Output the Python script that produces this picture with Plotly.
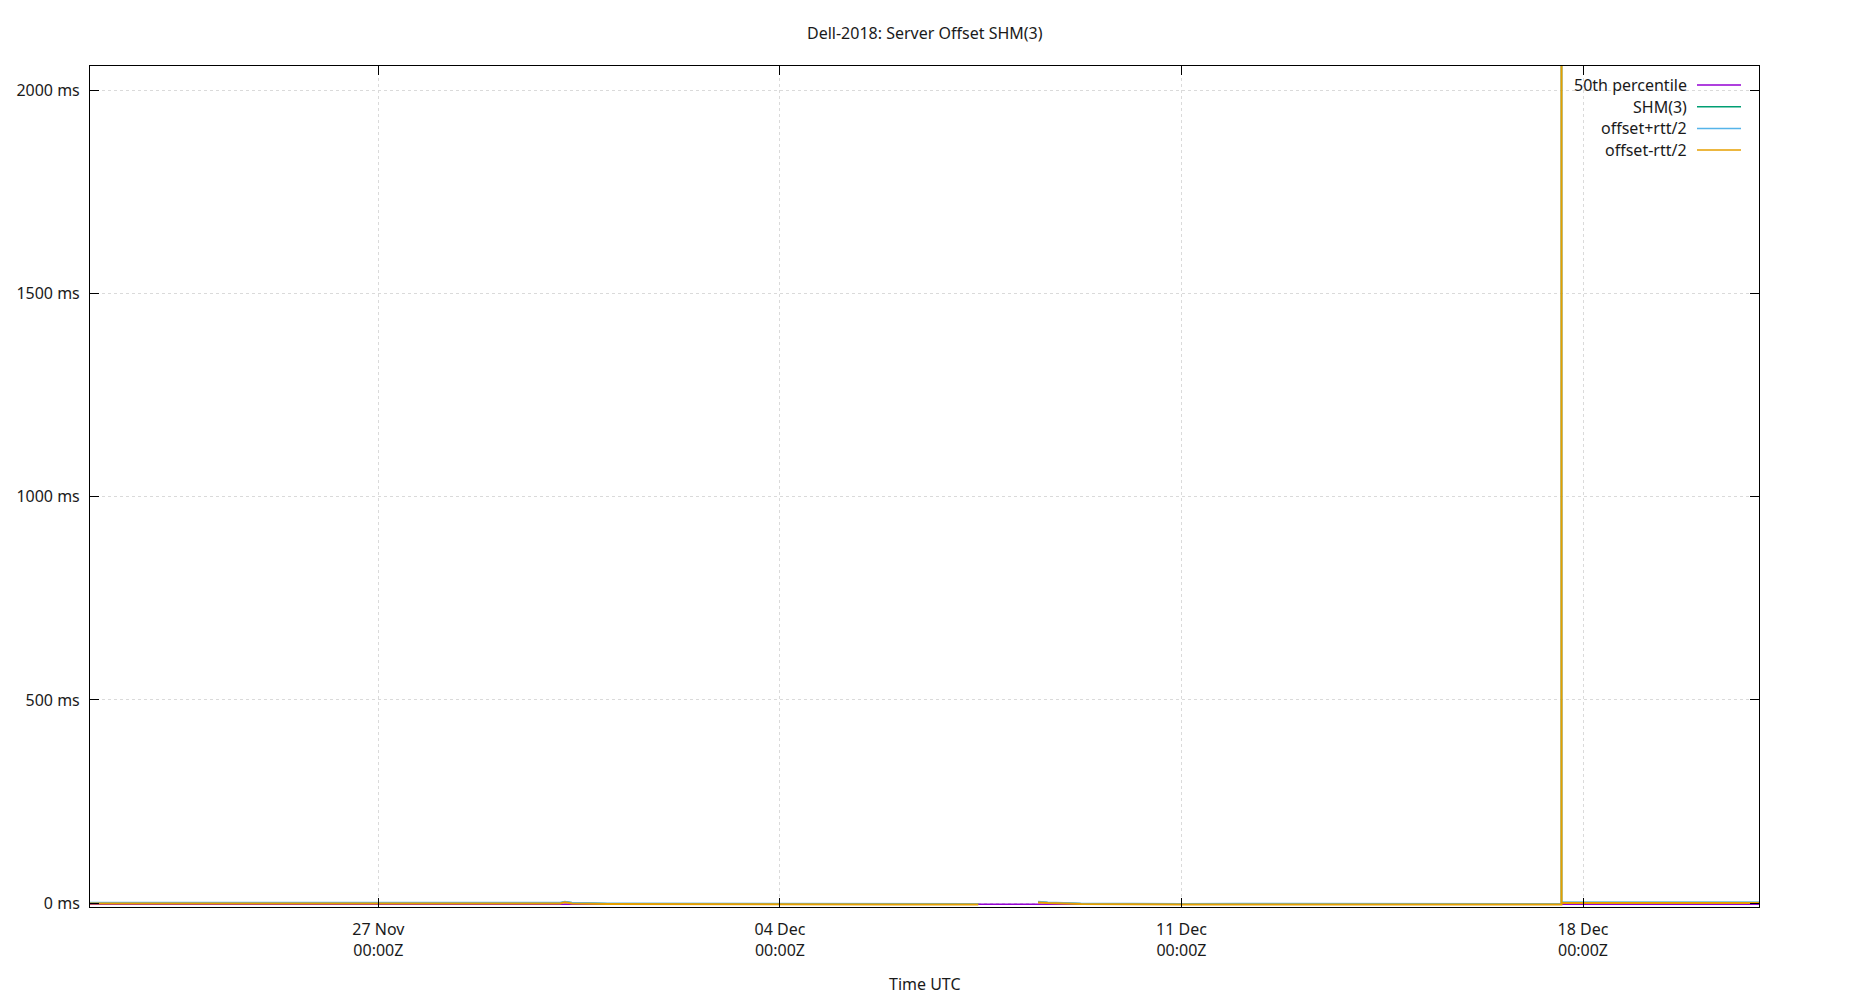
"""Dell-2018 server offset plot for SHM(3), redrawn with Plotly."""

import plotly.graph_objects as go

# sample times (UTC)
times = [
    "2018-11-21 23:20", "2018-11-23 00:00", "2018-11-24 00:00", "2018-11-25 00:00",
    "2018-11-26 00:00", "2018-11-27 00:00", "2018-11-28 00:00", "2018-11-29 00:00",
    "2018-11-30 04:00", "2018-11-30 06:00", "2018-11-30 09:00", "2018-12-01 00:00",
    "2018-12-02 00:00", "2018-12-03 00:00", "2018-12-04 00:00", "2018-12-05 00:00",
    "2018-12-06 00:00", "2018-12-07 00:00", "2018-12-07 11:00", "2018-12-07 12:00",
    "2018-12-08 12:00", "2018-12-08 16:00", "2018-12-09 06:00", "2018-12-10 00:00",
    "2018-12-11 00:00", "2018-12-12 00:00", "2018-12-13 00:00", "2018-12-14 00:00",
    "2018-12-15 00:00", "2018-12-16 00:00", "2018-12-17 00:00", "2018-12-17 14:59",
    "2018-12-17 15:00", "2018-12-17 15:01", "2018-12-18 00:00", "2018-12-19 00:00",
    "2018-12-20 00:00", "2018-12-21 01:40",
]

# offset of SHM(3), ms  (None = no samples)
shm3 = [
    0.5, 0.6, 0.5, 0.4, 0.5, 0.4, 0.5, 0.3,
    0.4, 3.0, 0.5, -1.5, -1.4, -1.6, -1.5, -2.5,
    -2.4, -2.6, -2.5, None, 2.5, 1.0, -1.5, -2.3,
    -2.5, -2.4, -2.6, -2.5, -2.4, -2.5, -2.6, -2.5,
    2550.0, 1.0, 1.1, 0.9, 1.0, 1.0,
]
offset_plus = [
    1.5, 1.6, 1.5, 1.4, 1.5, 1.4, 1.5, 1.3,
    1.4, 4.0, 1.5, -0.5, -0.4, -0.6, -0.5, -1.5,
    -1.4, -1.6, -1.5, None, 3.5, 2.0, -0.5, -1.3,
    -1.5, -1.4, -1.6, -1.5, -1.4, -1.5, -1.6, -1.5,
    2600.0, 2.0, 2.1, 1.9, 2.0, 2.0,
]
offset_minus = [
    -1.0, -0.9, -1.0, -1.1, -1.0, -1.1, -1.0, -1.2,
    -1.1, 2.0, -1.0, -2.5, -2.4, -2.6, -2.5, -3.8,
    -3.7, -3.9, -3.8, None, 1.5, 0.0, -2.5, -3.3,
    -3.5, -3.4, -3.6, -3.5, -3.4, -3.5, -3.6, -3.5,
    2500.0, 0.0, 0.1, -0.1, 0.0, 0.0,
]

# 50th percentile is a flat reference line across the whole span
p50_times = ["2018-11-21 23:20", "2018-12-21 01:40"]
p50_values = [-2.8, -2.8]

x_tickvals = ["2018-11-27", "2018-12-04", "2018-12-11", "2018-12-18"]
x_ticktext = ["27 Nov<br>00:00Z", "04 Dec<br>00:00Z", "11 Dec<br>00:00Z", "18 Dec<br>00:00Z"]
y_tickvals = [0, 500, 1000, 1500, 2000]
y_ticktext = ["0 ms", "500 ms", "1000 ms", "1500 ms", "2000 ms"]

series = [
    ("50th percentile", p50_times, p50_values, "#9400d3", 1.5),
    ("SHM(3)", times, shm3, "#009e73", 1.5),
    ("offset+rtt/2", times, offset_plus, "#56b4e9", 1.5),
    ("offset-rtt/2", times, offset_minus, "#e69f00", 2.0),
]

FONT = "Noto Sans, Open Sans, sans-serif"
PAGE = 8  # default body margin of the html page
W, H = 1850 - 2 * PAGE, 1000 - PAGE
L, T = 90 - PAGE, 66 - PAGE
plot_w, plot_h = 1669, 841
R, B = W - L - plot_w, H - T - plot_h

fig = go.Figure()
for name, xs, ys, colour, width in series:
    fig.add_scatter(x=xs, y=ys, name=name, mode="lines",
                    line=dict(color=colour, width=width), connectgaps=False)

axis_common = dict(
    showline=True, linecolor="black", linewidth=1, mirror="allticks",
    ticks="inside", ticklen=9, tickcolor="black", tickwidth=1,
    showgrid=True, gridcolor="#dadada", griddash="dot", gridwidth=1,
    zeroline=False, automargin=False,
    tickfont=dict(family=FONT, size=16, color="#1a1a1a"),
)
fig.update_xaxes(range=["2018-11-21 23:20", "2018-12-21 01:38"],
                 tickvals=x_tickvals, ticktext=x_ticktext,
                 ticklabelstandoff=8, **axis_common)
fig.update_yaxes(range=[-9.8, 2060.5], tickvals=y_tickvals,
                 ticktext=y_ticktext, ticklabelstandoff=6, **axis_common)


# helpers: positions measured on the 1850x1000 page -> paper coords
def px(x):
    return (x - PAGE - L) / plot_w


def py(y):
    return (T + plot_h - (y - PAGE)) / plot_h


# gnuplot-style key: opaque box, right-aligned text, sample line on the right
shapes = [dict(type="rect", xref="paper", yref="paper", layer="between",
               x0=px(1553), x1=px(1748), y0=py(162), y1=1.0,
               fillcolor="white", line=dict(width=0))]
annotations = []
for i, (name, _, _, colour, _) in enumerate(series):
    yy = py(85 + i * 21.7)
    shapes.append(dict(type="line", xref="paper", yref="paper",
                       x0=px(1697), x1=px(1741), y0=yy, y1=yy,
                       line=dict(color=colour, width=1.5)))
    annotations.append(dict(text=name, xref="paper", yref="paper",
                            x=px(1689), y=yy, xanchor="right", yanchor="middle",
                            showarrow=False,
                            font=dict(family=FONT, size=16, color="#1a1a1a")))

annotations.append(dict(text="Time UTC", xref="paper", yref="paper",
                        x=px(925), y=py(984), xanchor="center", yanchor="middle",
                        showarrow=False,
                        font=dict(family=FONT, size=16, color="#1a1a1a")))
annotations.append(dict(text="Dell-2018: Server Offset SHM(3)", xref="paper",
                        yref="paper", x=px(925), y=py(33), xanchor="center",
                        yanchor="middle", showarrow=False,
                        font=dict(family=FONT, size=16, color="#1a1a1a")))

fig.update_layout(
    width=W, height=H, autosize=False,
    margin=dict(l=L, r=R, t=T, b=B),
    paper_bgcolor="white", plot_bgcolor="white",
    showlegend=False,
    shapes=shapes, annotations=annotations,
)

fig.write_html("out.html")
